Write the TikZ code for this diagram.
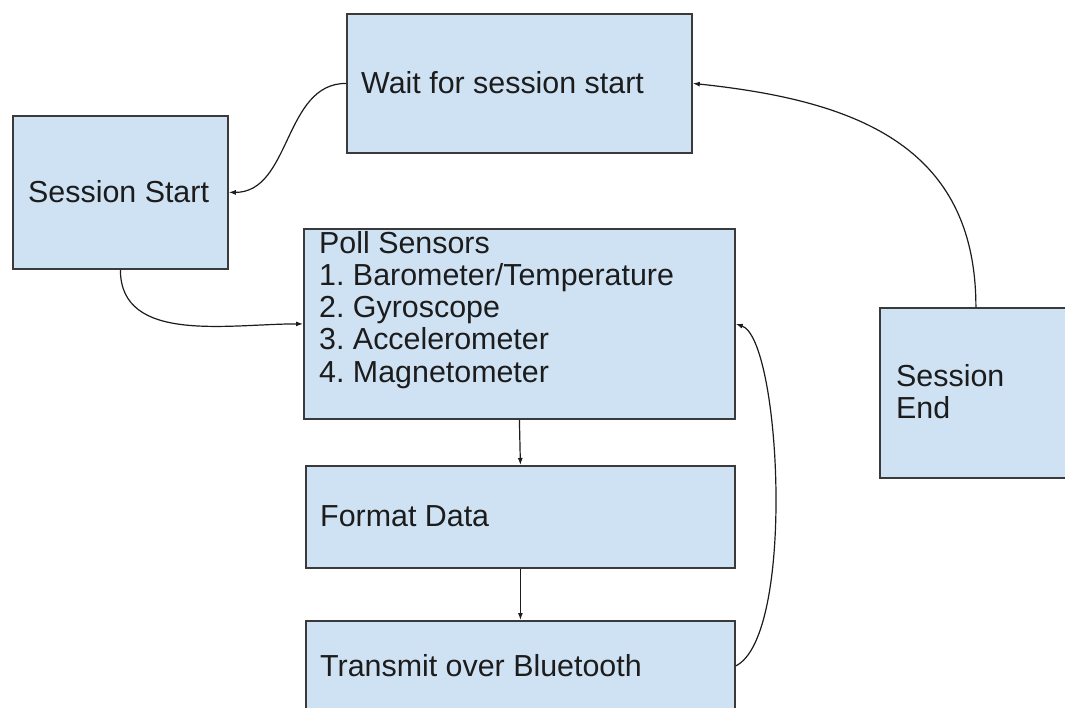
\documentclass[tikz,border=0pt]{standalone}
\usepackage{fontspec}
\setmainfont{Liberation Sans}
\usetikzlibrary{arrows.meta}
\definecolor{boxfill}{HTML}{CFE2F3}
\definecolor{boxline}{HTML}{3A3A3A}
\definecolor{txtcol}{HTML}{1C1C1C}
\frenchspacing
\begin{document}
\begin{tikzpicture}[x=1pt,y=-1pt,
  box/.style={draw=boxline, fill=boxfill, line width=1.8pt, inner sep=0pt, anchor=north west},
  lbl/.style={inner sep=0pt, anchor=base west, text=txtcol, font=\fontsize{30.4}{32.2}\selectfont, align=left},
  conn/.style={draw=txtcol, line width=1.2pt, -{Latex[length=7pt,width=5pt]}}]
\clip (0,0) rectangle (1065,707);
\fill[white] (0,0) rectangle (1065,707);
% boxes
\node[box, minimum width=345pt, minimum height=139pt] (wait) at (346,13) {};
\node[box, minimum width=215pt, minimum height=153pt] (sess) at (12,115) {};
\node[box, minimum width=431pt, minimum height=190pt] (poll) at (303,228) {};
\node[box, minimum width=192pt, minimum height=170pt] (send) at (879,307) {};
\node[box, minimum width=429pt, minimum height=102pt] (fmt) at (305,465) {};
\node[box, minimum width=429pt, minimum height=90pt] (trans) at (305,620) {};
% labels (multi-line nodes: base = last line)
\node[lbl] (waitT) at (361,93) {Wait for session start};
\node[lbl] (sessT) at (28,202) {Session Start};
\node[lbl] (pollT) at (319,382) {Poll Sensors\\1. Barometer/Temperature\\2. Gyroscope\\3. Accelerometer\\4. Magnetometer};
\node[lbl, font=\fontsize{30.4}{31.5}\selectfont] (sendT) at (896,418) {Session\\End};
\node[lbl] (fmtT) at (320,526) {Format Data};
\node[lbl] (transT) at (320,676) {Transmit over Bluetooth};
% connectors
\draw[conn] (wait.west) to[out=180,in=0] (sess.east);
\draw[conn] (sess.south) to[out=-90,in=180] (poll.west);
\draw[conn] (send.north) to[out=90,in=-6,looseness=1.15] (wait.east);
\draw[conn] (poll.south) -- (fmt.north);
\draw[conn] (fmt.south) -- (trans.north);
\draw[conn] (trans.east) .. controls +(60,-30) and +(45,15) .. (poll.east);
\end{tikzpicture}
\end{document}
